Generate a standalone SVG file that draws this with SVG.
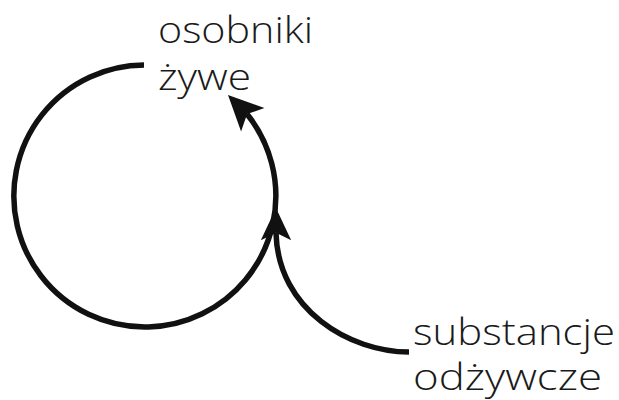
<svg xmlns="http://www.w3.org/2000/svg" xmlns:xlink="http://www.w3.org/1999/xlink" width="619" height="400" viewBox="0 0 619 400">
  <style>
    .lbl { font-family: "Open Sans", "Liberation Sans", sans-serif; font-weight: 300; font-size: 37px; fill: #1a1a1a; }
    .flow { fill: none; stroke: #111; stroke-width: 5.5; stroke-linecap: butt; }
    .head { fill: #111; }
  </style>
  <defs>
    <!-- notched arrowhead, tip at origin, pointing along +x -->
    <path id="arrowhead" d="M0,0 L-35,-16.5 L-27,0 L-35,16.5 Z"/>
  </defs>
  <rect width="619" height="400" fill="#fff"/>

  <g id="connectors">
    <!-- life cycle loop -->
    <path class="flow" d="M144 65 A131 131 0 1 0 247 114"/>
    <use class="head" xlink:href="#arrowhead" transform="translate(228 95) rotate(-135)"/>
    <!-- nutrient feed joining the loop -->
    <path class="flow" d="M409 352 C350 352 278 310 276 233"/>
    <use class="head" xlink:href="#arrowhead" transform="translate(276 208) rotate(-90) scale(0.92)"/>
  </g>

  <g id="osobniki-zywe">
    <text class="lbl" x="158" y="43" textLength="155" lengthAdjust="spacingAndGlyphs">osobniki</text>
    <text class="lbl" x="158" y="90" textLength="93" lengthAdjust="spacingAndGlyphs">żywe</text>
  </g>

  <g id="substancje-odzywcze">
    <text class="lbl" x="413" y="345" textLength="202" lengthAdjust="spacingAndGlyphs">substancje</text>
    <text class="lbl" x="413" y="390" textLength="189" lengthAdjust="spacingAndGlyphs">odżywcze</text>
  </g>
</svg>
